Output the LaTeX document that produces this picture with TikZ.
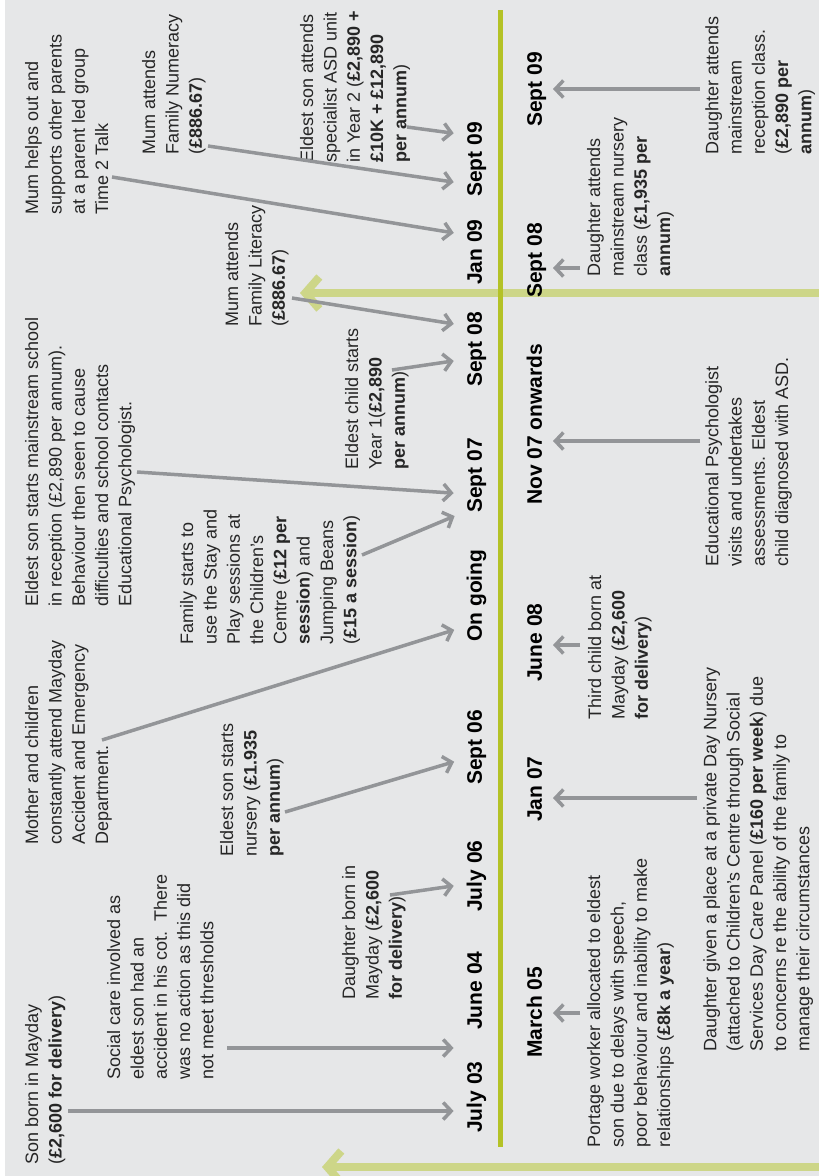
\documentclass[tikz,border=0pt]{standalone}
\usepackage{fontspec}
\setmainfont{Liberation Sans}
\usetikzlibrary{arrows.meta}
\definecolor{bggray}{HTML}{E6E7E8}
\definecolor{linkgray}{HTML}{939598}
\definecolor{axisgreen}{HTML}{B4C226}
\definecolor{pastgreen}{HTML}{CDD688}

\begin{document}
\begin{tikzpicture}[x=1pt, y=-1pt,
  note/.style={rotate=90, anchor=north west, inner sep=0pt, align=left,
    font=\fontsize{18}{23.3}\selectfont, text=black!85},
  when/.style={rotate=90, anchor=south west, inner sep=0pt,
    font=\fontsize{21}{24}\selectfont\bfseries, text height=15pt, text depth=0pt},
  conn/.style={linkgray, line width=3.5pt, -{Straight Barb[length=8pt, width=17pt]}},
  connl/.style={conn, shorten >=13pt},
  connr/.style={conn, shorten >=11pt},
  phase/.style={pastgreen, line width=8pt, -{Straight Barb[length=14pt, width=32pt]}}]
  \useasboundingbox (0,0) rectangle (819,1176);
  \fill[bggray] (5,0) rectangle (819,1176);

  % phase arrows and time axis
  \coordinate (ph1) at (819,293);
  \coordinate (ph1end) at (300,293);
  \coordinate (ph2) at (819,1167);
  \coordinate (ph2end) at (322,1167);
  \draw[phase] (ph1) -- (ph1end);
  \draw[phase] (ph2) -- (ph2end);
  \coordinate (axtop) at (500,10);
  \coordinate (axbot) at (500,1147);
  \draw[axisgreen, line width=5pt] (axtop) -- (axbot);

  % dates, upper side
  \node[when] (jul03) at (482,1133) {July 03};
  \node[when] (jun04) at (482,1030) {June 04};
  \node[when] (jul06) at (482,912) {July 06};
  \node[when] (sep06) at (482,785) {Sept 06};
  \node[when] (ongoing) at (482,642) {On going};
  \node[when] (sep07) at (482,513) {Sept 07};
  \node[when] (sep08) at (482,387) {Sept 08};
  \node[when] (jan09) at (482,285) {Jan 09};
  \node[when] (sep09) at (482,197) {Sept 09};
  % dates, lower side
  \node[when] (mar05) at (542,1058) {March 05};
  \node[when] (jan07) at (542,822) {Jan 07};
  \node[when] (jun08) at (542,682) {June 08};
  \node[when] (nov07) at (542,505) {Nov 07 onwards};
  \node[when] (dsep08) at (542,298) {Sept 08};
  \node[when] (dsep09) at (542,127) {Sept 09};

  % events, upper side
  \node[note] (sonborn) at (25,1165) {Son born in Mayday\\(\textbf{£2,600 for delivery})};
  \node[note] (social) at (107,1080) {Social care involved as\\eldest son had an\\accident in his cot.\ \ There\\was no action as this did\\not meet thresholds};
  \node[note] (dborn) at (342,1000) {Daughter born in\\Mayday (\textbf{£2,600}\\\textbf{for delivery})};
  \node[note] (nursery) at (220,857) {Eldest son starts\\nursery (\textbf{£1.935}\\\textbf{per annum})};
  \node[note] (ae) at (25,845) {Mother and children\\constantly attend Mayday\\Accident and Emergency\\Department.};
  \node[note] (stayplay) at (180,645) {Family starts to\\use the Stay and\\Play sessions at\\the Children's\\Centre (\textbf{£12 per}\\\textbf{session}) and\\Jumping Beans\\(\textbf{£15 a session})};
  \node[note] (reception) at (25,607) {Eldest son starts mainstream school\\in reception (£2,890 per annum).\\Behaviour then seen to cause\\difficulties and school contacts\\Educational Psychologist.};
  \node[note] (year1) at (345,470) {Eldest child starts\\Year 1(\textbf{£2,890}\\\textbf{per annum})};
  \node[note] (literacy) at (225,327) {Mum attends\\Family Literacy\\(\textbf{£886.67})};
  \node[note] (talk) at (25,215) {Mum helps out and\\supports other parents\\at a parent led group\\Time 2 Talk};
  \node[note] (numeracy) at (142,155) {Mum attends\\Family Numeracy\\(\textbf{£886.67})};
  \node[note] (asd) at (300,163) {Eldest son attends\\specialist ASD unit\\in Year 2 (\textbf{£2,890 +}\\\textbf{£10K + £12,890}\\\textbf{per annum})};

  % events, lower side
  \node[note] (portage) at (587,1148) {Portage worker allocated to eldest\\son due to delays with speech,\\poor behaviour and inability to make\\relationships (\textbf{£8k a year})};
  \node[note] (daynursery) at (703,1052) {Daughter given a place at a private Day Nursery\\(attached to Children's Centre through Social\\Services Day Care Panel (\textbf{£160 per week}) due\\to concerns re the ability of the family to\\manage their circumstances};
  \node[note] (thirdborn) at (588,720) {Third child born at\\Mayday (\textbf{£2,600}\\\textbf{for delivery})};
  \node[note] (edpsych) at (705,567) {Educational Psychologist\\visits and undertakes\\assessments. Eldest\\child diagnosed with ASD.};
  \node[note] (dnursery) at (587,277) {Daughter attends\\mainstream nursery\\class (\textbf{£1,935 per}\\\textbf{annum})};
  \node[note] (dreception) at (705,155) {Daughter attends\\mainstream\\reception class.\\(\textbf{£2,890 per}\\\textbf{annum})};

  % connectors, upper side
  \coordinate (t1) at (68,1111);
  \coordinate (t2) at (227,1048);
  \coordinate (t3) at (390,895);
  \coordinate (t4) at (285,812);
  \coordinate (t5) at (102,740);
  \coordinate (t6) at (362,555);
  \coordinate (t7) at (137,472);
  \coordinate (t8) at (392,370);
  \coordinate (t9) at (292,298);
  \coordinate (t10) at (112,177);
  \coordinate (t11) at (208,146);
  \coordinate (t12) at (407,127);
  \draw[connl] (t1) -- (jul03.north |- t1);
  \draw[connl] (t2) -- (jun04.north |- t2);
  \draw[connl] (t3) -- (jul06.north |- 0,884);
  \draw[connl] (t4) -- (sep06.north |- 0,758);
  \draw[connl] (t5) -- (ongoing.north |- 0,626);
  \draw[connl] (t6) -- (sep07.north |- 0,511);
  \draw[connl] (t7) -- (sep07.north |- 0,494);
  \draw[connl] (t8) -- (sep08.north |- 0,359);
  \draw[connl] (t9) -- (sep08.north |- 0,326);
  \draw[connl] (t10) -- (jan09.north |- 0,235);
  \draw[connl] (t11) -- (sep09.north |- 0,184);
  \draw[connl] (t12) -- (sep09.north |- 0,135);

  % connectors, lower side
  \coordinate (b1) at (580,1013);
  \coordinate (b2) at (697,798);
  \coordinate (b3) at (580,645);
  \coordinate (b4) at (700,441);
  \coordinate (b5) at (580,268);
  \coordinate (b6) at (700,89);
  \draw[connr] (b1) -- (mar05.south |- b1);
  \draw[connr] (b2) -- (jan07.south |- b2);
  \draw[connr] (b3) -- (jun08.south |- b3);
  \draw[connr] (b4) -- (nov07.south |- b4);
  \draw[connr] (b5) -- (dsep08.south |- b5);
  \draw[connr] (b6) -- (dsep09.south |- b6);
\end{tikzpicture}
\end{document}
